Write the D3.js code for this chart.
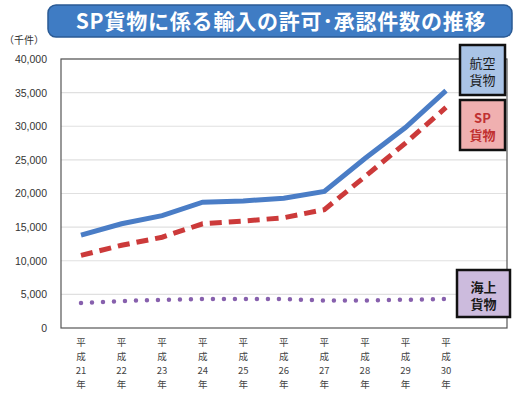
<!DOCTYPE html>
<html><head><meta charset="utf-8">
<script src="https://cdn.jsdelivr.net/npm/d3@7"></script>
<style>body{margin:0;background:#fff}svg{font-family:"Noto Sans CJK JP",sans-serif}</style>
</head><body><svg id="c" width="525" height="405"></svg>
<script>
const years = ["21","22","23","24","25","26","27","28","29","30"];
const air = [13800,15500,16700,18700,18900,19300,20300,25200,29800,35300];
const sp  = [10800,12300,13500,15500,15900,16400,17600,22500,27500,32800];
const sea = [3700,4000,4200,4300,4300,4300,4100,4100,4200,4300];
const yTicks = [0,5000,10000,15000,20000,25000,30000,35000,40000];

const svg = d3.select("#c");
const L=61,R=507,T=59,B=328;
const x = d3.scalePoint().domain(years).range([81,446]);
const y = d3.scaleLinear().domain([0,40000]).range([B,T]);

svg.append("rect").attr("x",48).attr("y",5).attr("width",464).attr("height",32).attr("rx",8)
  .attr("fill","#3f7cc4").attr("stroke","#2a5a94").attr("stroke-width",1.5);
svg.append("text").attr("x",281).attr("y",29).attr("text-anchor","middle").attr("fill","#fff")
  .attr("font-size",21).attr("font-weight","bold").attr("letter-spacing",0.8).text("SP貨物に係る輸入の許可･承認件数の推移");
svg.append("text").attr("x",4).attr("y",44).attr("font-size",10).attr("fill","#333").text("（千件）");

svg.append("g").selectAll("line").data(yTicks.filter(d=>d>0)).join("line")
  .attr("x1",L).attr("x2",R).attr("y1",d=>y(d)).attr("y2",d=>y(d)).attr("stroke","#e0e0e0").attr("stroke-width",1.2);
svg.append("rect").attr("x",L).attr("y",T).attr("width",R-L).attr("height",B-T)
  .attr("fill","none").attr("stroke","#555").attr("stroke-width",1.2);

const ya = svg.append("g").attr("transform",`translate(${L},0)`)
  .call(d3.axisLeft(y).tickValues(yTicks).tickFormat(d3.format(",")).tickSize(0).tickPadding(14));
ya.select(".domain").remove();
ya.selectAll("text").attr("font-size",10.5).attr("fill","#333").attr("font-family","Liberation Sans, sans-serif");

const xg = svg.append("g");
years.forEach(yr=>{
  const t = xg.append("text").attr("text-anchor","middle").attr("font-size",9.5).attr("fill","#444");
  ["平","成",yr,"年"].forEach((s,i)=>t.append("tspan").attr("x",x(yr)).attr("y",346+i*14).text(s));
});

const line = d3.line().x((d,i)=>x(years[i])).y(d=>y(d));
svg.append("path").attr("d",line(air)).attr("fill","none").attr("stroke","#4a7dc6").attr("stroke-width",5);
svg.append("path").attr("d",line(sp)).attr("fill","none").attr("stroke","#cc3a3a").attr("stroke-width",5)
  .attr("stroke-dasharray","12,7");
svg.append("path").attr("d",line(sea)).attr("fill","none").attr("stroke","#8760ad").attr("stroke-width",4.5)
  .attr("stroke-linecap","round").attr("stroke-dasharray","0,11");

const boxes=[
 {x:460,y:45,w:45,h:50,fill:"#aac4e6",c:"#1a1a1a",t:["航空","貨物"],bold:false},
 {x:460,y:100,w:45,h:50,fill:"#f0b0b0",c:"#c03030",t:["SP","貨物"],bold:true},
 {x:457,y:270,w:53,h:47,fill:"#ccbbdd",c:"#1a1a1a",t:["海上","貨物"],bold:true}];
boxes.forEach(b=>{
  svg.append("rect").attr("x",b.x).attr("y",b.y).attr("width",b.w).attr("height",b.h)
    .attr("fill",b.fill).attr("stroke","#111").attr("stroke-width",2.5);
  b.t.forEach((s,i)=>svg.append("text").attr("x",b.x+b.w/2).attr("y",b.y+b.h/2-2+i*17)
    .attr("text-anchor","middle").attr("font-size",13).attr("font-weight",b.bold?"bold":"normal")
    .attr("fill",b.c).text(s));
});
</script></body></html>
